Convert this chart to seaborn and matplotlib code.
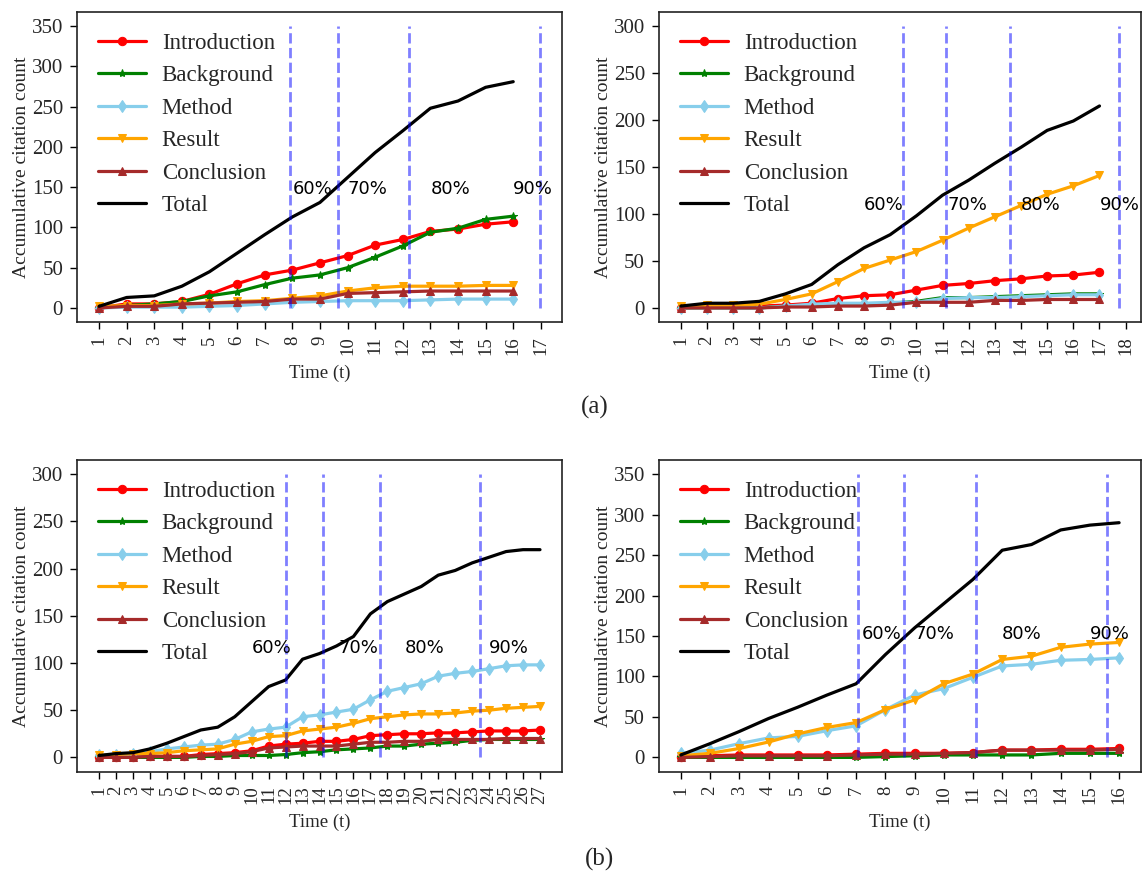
import matplotlib
matplotlib.use("Agg")
import matplotlib.pyplot as plt
import seaborn as sns
import pandas as pd

sns.set_style("ticks")
plt.rcParams["font.family"] = ["Liberation Serif", "DejaVu Sans"]

series_names = ["Introduction", "Background", "Method", "Result", "Conclusion", "Total"]
series_colors = ["red", "green", "skyblue", "orange", "brown", "black"]
series_markers = ["o", "*", "d", "v", "^", None]
pct_labels = ["60%", "70%", "80%", "90%"]

# ---- panel (a) left ----
a1_time = list(range(1, 17))
a1_intro = [0, 5, 5, 8, 17, 30, 41, 47, 56, 65, 78, 85, 95, 98, 104, 107]
a1_background = [0, 3, 5, 8, 15, 20, 29, 37, 41, 50, 63, 77, 94, 99, 110, 114]
a1_method = [0, 1, 1, 1, 2, 3, 5, 7, 8, 9, 9, 9, 10, 11, 11, 11]
a1_result = [2, 3, 3, 5, 6, 8, 9, 12, 15, 21, 25, 27, 27, 27, 28, 28]
a1_conclusion = [0, 2, 2, 5, 6, 7, 8, 11, 11, 18, 19, 20, 21, 21, 21, 21]
a1_total = [2, 13, 15, 27, 45, 68, 91, 113, 131, 162, 193, 220, 248, 257, 274, 281]
a1_thresholds = [7.93, 9.64, 12.22, 16.97]
a1_xticks = list(range(1, 18))
a1_yticks = [0, 50, 100, 150, 200, 250, 300, 350]

# ---- panel (a) right ----
a2_time = list(range(1, 18))
a2_intro = [0, 1, 1, 2, 3, 5, 10, 13, 14, 19, 24, 26, 29, 31, 34, 35, 38]
a2_background = [0, 0, 0, 0, 2, 3, 4, 4, 5, 7, 11, 11, 12, 13, 14, 15, 15]
a2_method = [0, 0, 0, 0, 2, 4, 5, 5, 6, 6, 10, 11, 11, 12, 13, 14, 14]
a2_result = [2, 3, 3, 4, 9, 15, 28, 42, 51, 60, 72, 85, 97, 109, 121, 130, 141]
a2_conclusion = [0, 0, 0, 0, 1, 1, 2, 2, 3, 6, 6, 6, 8, 8, 9, 9, 9]
a2_total = [2, 5, 5, 7, 15, 25, 46, 64, 78, 98, 120, 136, 154, 171, 189, 199, 215]
a2_thresholds = [9.50, 11.14, 13.57, 17.75]
a2_xticks = list(range(1, 19))
a2_yticks = [0, 50, 100, 150, 200, 250, 300]

# ---- panel (b) left ----
b1_time = list(range(1, 28))
b1_intro = [0, 0, 0, 1, 1, 1, 3, 4, 5, 7, 12, 14, 15, 17, 17, 19, 23, 24, 25, 25, 26, 26, 27, 28, 28, 28, 29]
b1_background = [0, 0, 0, 0, 0, 0, 1, 1, 2, 2, 2, 3, 5, 6, 8, 9, 10, 12, 12, 14, 15, 16, 18, 19, 19, 19, 19]
b1_method = [2, 3, 4, 6, 9, 11, 13, 14, 19, 27, 30, 32, 43, 45, 48, 51, 61, 70, 74, 78, 86, 89, 91, 94, 97, 98, 98]
b1_result = [2, 3, 4, 4, 5, 7, 8, 9, 14, 17, 22, 23, 28, 30, 32, 36, 41, 43, 45, 46, 46, 47, 49, 50, 52, 53, 54]
b1_conclusion = [0, 0, 0, 1, 1, 1, 2, 3, 4, 6, 10, 11, 12, 12, 12, 14, 16, 16, 17, 17, 19, 19, 19, 19, 20, 20, 20]
b1_total = [2, 4, 5, 9, 15, 22, 29, 32, 43, 59, 75, 82, 104, 110, 118, 128, 152, 165, 173, 181, 193, 198, 206, 212, 218, 220, 220]
b1_thresholds = [12.0, 14.22, 17.58, 23.49]
b1_xticks = list(range(1, 28))
b1_yticks = [0, 50, 100, 150, 200, 250, 300]

# ---- panel (b) right ----
b2_time = list(range(1, 17))
b2_intro = [1, 2, 3, 3, 3, 3, 4, 5, 5, 5, 6, 9, 9, 10, 10, 11]
b2_background = [0, 0, 0, 0, 0, 0, 0, 1, 2, 3, 3, 3, 3, 5, 5, 5]
b2_method = [5, 9, 17, 24, 26, 33, 39, 59, 77, 85, 99, 113, 115, 120, 121, 123]
b2_result = [2, 5, 11, 19, 29, 37, 43, 59, 71, 91, 103, 121, 125, 136, 140, 142]
b2_conclusion = [0, 1, 2, 2, 2, 2, 3, 4, 4, 5, 6, 9, 9, 9, 9, 10]
b2_total = [3, 17, 32, 48, 62, 77, 91, 127, 160, 190, 220, 256, 263, 281, 287, 290]
b2_thresholds = [7.08, 8.65, 11.11, 15.58]
b2_xticks = list(range(1, 17))
b2_yticks = [0, 50, 100, 150, 200, 250, 300, 350]

panels = [
    dict(time=a1_time, vals=[a1_intro, a1_background, a1_method, a1_result, a1_conclusion, a1_total],
         thr=a1_thresholds, xticks=a1_xticks, yticks=a1_yticks,
         lab_x=[8.0, 10.0, 13.0, 16.0], lab_y=148,
         rect=[0.0673, 0.6307, 0.4240, 0.3555]),
    dict(time=a2_time, vals=[a2_intro, a2_background, a2_method, a2_result, a2_conclusion, a2_total],
         thr=a2_thresholds, xticks=a2_xticks, yticks=a2_yticks,
         lab_x=[8.0, 11.2, 14.0, 17.0], lab_y=110,
         rect=[0.5760, 0.6307, 0.4214, 0.3555]),
    dict(time=b1_time, vals=[b1_intro, b1_background, b1_method, b1_result, b1_conclusion, b1_total],
         thr=b1_thresholds, xticks=b1_xticks, yticks=b1_yticks,
         lab_x=[10.0, 15.1, 19.0, 24.0], lab_y=116,
         rect=[0.0673, 0.1152, 0.4240, 0.3573]),
    dict(time=b2_time, vals=[b2_intro, b2_background, b2_method, b2_result, b2_conclusion, b2_total],
         thr=b2_thresholds, xticks=b2_xticks, yticks=b2_yticks,
         lab_x=[7.2, 9.0, 12.0, 15.0], lab_y=153,
         rect=[0.5760, 0.1152, 0.4214, 0.3573]),
]

fig = plt.figure(figsize=(11.44, 8.72), dpi=100)

for p in panels:
    ax = fig.add_axes(p["rect"])
    for name, color, marker, vals in zip(series_names, series_colors, series_markers, p["vals"]):
        df = pd.DataFrame({"t": p["time"], "v": vals})
        kw = dict(color=color, linewidth=2.3, label=name)
        if marker is not None:
            kw.update(marker=marker, markersize=6,
                      markeredgecolor=color, markerfacecolor=color)
        sns.lineplot(data=df, x="t", y="v", ax=ax, **kw)
    ax.vlines(p["thr"], 0, p["yticks"][-1], colors="blue", alpha=0.5,
              linestyles="--", linewidth=2)
    for lx, txt in zip(p["lab_x"], pct_labels):
        ax.text(lx, p["lab_y"], txt, ha="left", va="center",
                fontsize=13, family="DejaVu Sans", color="black")
    ax.set_xticks(p["xticks"])
    ax.set_xticklabels([str(v) for v in p["xticks"]], rotation=90, fontsize=13.5)
    ax.set_yticks(p["yticks"])
    ax.set_yticklabels([str(v) for v in p["yticks"]], fontsize=15)
    ax.set_xlabel("Time (t)", fontsize=13.5, labelpad=7)
    ax.set_ylabel("Accumulative citation count", fontsize=14, labelpad=1)
    ax.tick_params(axis="both", direction="out", length=5, width=1, color="black", pad=5)
    for s in ax.spines.values():
        s.set_visible(True)
        s.set_color("#222222")
        s.set_linewidth(1.2)
    ax.legend(loc="upper left", frameon=False, fontsize=16.5, handlelength=2.1,
              handletextpad=0.7, labelspacing=0.5, borderaxespad=0.5)

fig.text(0.520, 0.533, "(a)", ha="center", va="center", fontsize=18)
fig.text(0.524, 0.014, "(b)", ha="center", va="center", fontsize=18)

fig.savefig("out.png", dpi=100)
